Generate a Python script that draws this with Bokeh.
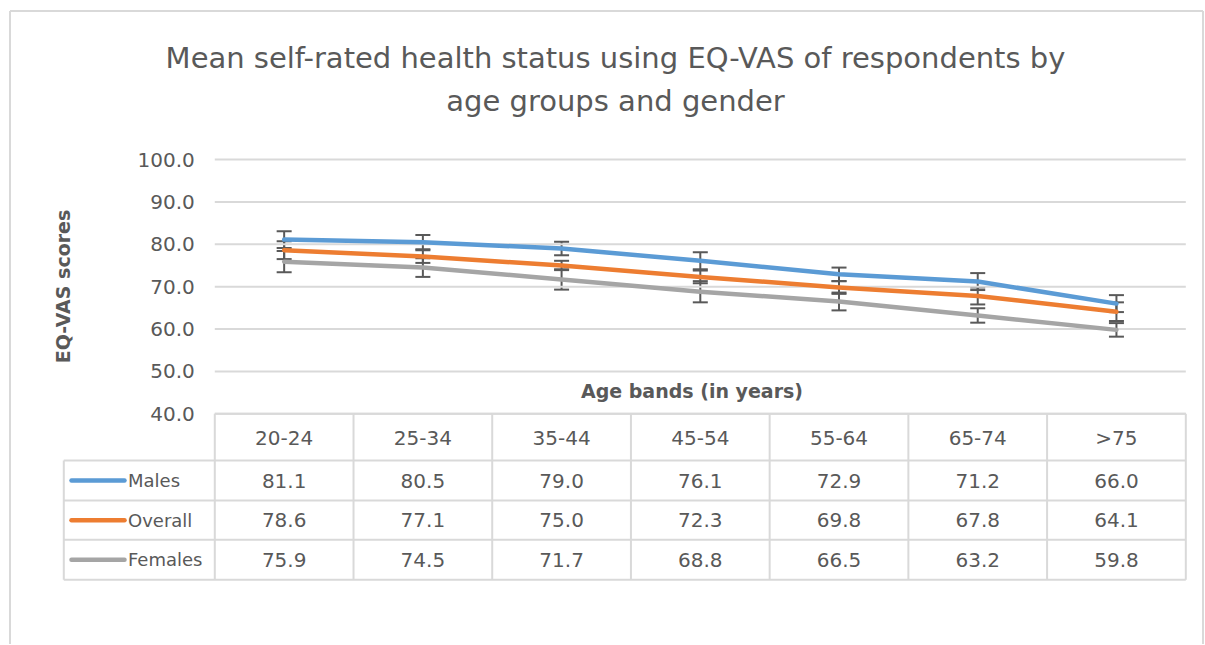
import numpy as np
from bokeh.plotting import figure
from bokeh.models import (ColumnDataSource, Range1d, LinearAxis, FixedTicker,
                          Whisker, TeeHead, PrintfTickFormatter)
from bokeh.core.properties import value
from bokeh.embed import file_html
from bokeh.resources import INLINE

# ---------------- data ----------------
categories = ["20-24", "25-34", "35-44", "45-54", "55-64", "65-74", ">75"]
series_names = ["Males", "Overall", "Females"]
males = [81.1, 80.5, 79.0, 76.1, 72.9, 71.2, 66.0]
overall = [78.6, 77.1, 75.0, 72.3, 69.8, 67.8, 64.1]
females = [75.9, 74.5, 71.7, 68.8, 66.5, 63.2, 59.8]
males_err = [2.0, 1.7, 1.6, 2.0, 1.6, 2.0, 2.0]
overall_err = [2.1, 1.5, 1.1, 1.5, 1.5, 2.0, 2.2]
females_err = [2.5, 2.2, 2.4, 2.5, 2.1, 1.7, 1.6]
y_ticks = [40, 50, 60, 70, 80, 90, 100]
title_lines = ["Mean self-rated health status using EQ-VAS of respondents by",
               "age groups and gender"]
x_title = "Age bands (in years)"
y_title = "EQ-VAS scores"

# ---------------- layout (page pixels) ----------------
W, H = 1204, 644
OFF = 0
PLOT_L, PLOT_R = 214.3, 1185.3
Y_TOP_T, Y_BOT_T = 159.0, 413.3          # pixel rows of top / bottom tick
COLW = (PLOT_R - PLOT_L) / len(categories)
X0 = PLOT_L + COLW / 2
KY = (Y_BOT_T - Y_TOP_T) / (max(y_ticks) - min(y_ticks))


def px_x(X):
    return (X - X0) / COLW


def px_y(Y):
    return max(y_ticks) - (Y - Y_TOP_T) / KY


TEXT = "#595959"
GRID = "#d9d9d9"
FONT = value("DejaVu Sans")
colors = ["#5B9BD5", "#ED7D31", "#A5A5A5"]
values = [males, overall, females]
errors = [males_err, overall_err, females_err]

p = figure(width=W, height=H, output_backend="svg", toolbar_location=None,
           x_range=Range1d(px_x(OFF), px_x(OFF + W)),
           y_range=Range1d(px_y(OFF + H), px_y(OFF)),
           x_axis_location=None, y_axis_location=None,
           min_border=0, min_border_left=0, min_border_right=0,
           min_border_top=0, min_border_bottom=0)
p.title.visible = False
p.outline_line_color = None
p.background_fill_color = "white"
p.border_fill_color = "white"
p.xgrid.visible = False
p.ygrid.visible = False
p.grid.grid_line_color = None

idx = list(range(len(categories)))
x_edges = [i - 0.5 for i in range(len(categories) + 1)]

# outer chart border
BL, BT, BR = 9.5, 10.5, 1202.5
p.segment(x0=[px_x(BL), px_x(BL), px_x(BR)], y0=[px_y(BT), px_y(BT), px_y(BT)],
          x1=[px_x(BL), px_x(BR), px_x(BR)], y1=[px_y(OFF + H), px_y(BT), px_y(OFF + H)],
          line_color=GRID, line_width=2)

# horizontal grid lines
p.segment(x0=[x_edges[0]] * len(y_ticks), x1=[x_edges[-1]] * len(y_ticks),
          y0=y_ticks, y1=y_ticks, line_color=GRID, line_width=2)

# data table borders
row_edges_px = [460.0, 500.0, 539.3, 579.3]
row_edges = [px_y(v) for v in row_edges_px]
LEG_L = px_x(63.3)
hx0 = [x_edges[0]] + [LEG_L] * len(row_edges)
hy = [min(y_ticks)] + row_edges
p.segment(x0=hx0, x1=[x_edges[-1]] * len(hx0), y0=hy, y1=hy,
          line_color=GRID, line_width=2)
p.segment(x0=x_edges, x1=x_edges, y0=[min(y_ticks)] * len(x_edges),
          y1=[row_edges[-1]] * len(x_edges), line_color=GRID, line_width=2)
p.segment(x0=[LEG_L], x1=[LEG_L], y0=[row_edges[0]], y1=[row_edges[-1]],
          line_color=GRID, line_width=2)

# lines
for vals, col in zip(values, colors):
    p.line(x=idx, y=vals, line_color=col, line_width=4.5,
           line_cap="round", line_join="round")

# error bars
for vals, errs in zip(values, errors):
    src = ColumnDataSource(dict(x=idx,
                                upper=[v + e for v, e in zip(vals, errs)],
                                lower=[v - e for v, e in zip(vals, errs)]))
    w = Whisker(base="x", upper="upper", lower="lower", source=src,
                line_color=TEXT, line_width=2,
                upper_head=TeeHead(size=15, line_color=TEXT, line_width=2),
                lower_head=TeeHead(size=15, line_color=TEXT, line_width=2))
    p.add_layout(w)

# table values
row_centers = [(row_edges[i] + row_edges[i + 1]) / 2 for i in range(len(series_names))]
tx, ty, tt = [], [], []
for r, vals in enumerate(values):
    for i, v in enumerate(vals):
        tx.append(i)
        ty.append(row_centers[r])
        tt.append(f"{v:.1f}")
p.text(x=tx, y=ty, text=tt, text_align="center", text_baseline="middle",
       text_font=FONT, text_font_size="20px", text_color=TEXT)

# legend column
p.segment(x0=[px_x(71)] * 3, x1=[px_x(124)] * 3, y0=row_centers, y1=row_centers,
          line_color=colors, line_width=4.5, line_cap="round")
p.text(x=[px_x(127.5)] * 3, y=row_centers, text=series_names,
       text_align="left", text_baseline="middle", text_font=FONT,
       text_font_size="18px", text_color=TEXT)

# title
p.text(x=[px_x(615)] * 2, y=[px_y(57), px_y(100)], text=title_lines,
       text_align="center", text_baseline="middle", text_font=FONT,
       text_font_size="29px", text_color=TEXT)

# y axis
yaxis = LinearAxis(ticker=FixedTicker(ticks=y_ticks),
                   formatter=PrintfTickFormatter(format="%.1f"),
                   fixed_location=x_edges[0], bounds=(min(y_ticks), max(y_ticks)))
yaxis.axis_line_color = None
yaxis.major_tick_line_color = None
yaxis.minor_tick_line_color = None
yaxis.major_tick_out = 0
yaxis.major_tick_in = 0
yaxis.major_label_standoff = 20
yaxis.major_label_text_font = "DejaVu Sans"
yaxis.major_label_text_font_size = "20px"
yaxis.major_label_text_color = TEXT
yaxis.axis_label = y_title
yaxis.axis_label_standoff = 60
yaxis.axis_label_text_font = "DejaVu Sans"
yaxis.axis_label_text_font_size = "19px"
yaxis.axis_label_text_font_style = "bold"
yaxis.axis_label_text_color = TEXT
p.add_layout(yaxis, "left")

# x axis: category labels in the header row
xaxis = LinearAxis(ticker=FixedTicker(ticks=idx),
                   major_label_overrides={i: c for i, c in enumerate(categories)},
                   fixed_location=min(y_ticks), bounds=(x_edges[0], x_edges[-1]))
xaxis.axis_line_color = None
xaxis.major_tick_line_color = None
xaxis.minor_tick_line_color = None
xaxis.major_tick_out = 0
xaxis.major_tick_in = 0
xaxis.major_label_standoff = 12
xaxis.major_label_text_font = "DejaVu Sans"
xaxis.major_label_text_font_size = "20px"
xaxis.major_label_text_color = TEXT
p.add_layout(xaxis, "below")

# x axis title above the table
taxis = LinearAxis(ticker=FixedTicker(ticks=[]), fixed_location=min(y_ticks),
                   bounds=(x_edges[0], 6.38))
taxis.axis_line_color = None
taxis.major_tick_line_color = None
taxis.minor_tick_line_color = None
taxis.major_tick_out = 0
taxis.major_tick_in = 0
taxis.axis_label = x_title
taxis.axis_label_standoff = 12
taxis.axis_label_text_font = "DejaVu Sans"
taxis.axis_label_text_font_size = "19px"
taxis.axis_label_text_font_style = "bold"
taxis.axis_label_text_color = TEXT
p.add_layout(taxis, "above")

open("out.html", "w").write(file_html(p, INLINE))
